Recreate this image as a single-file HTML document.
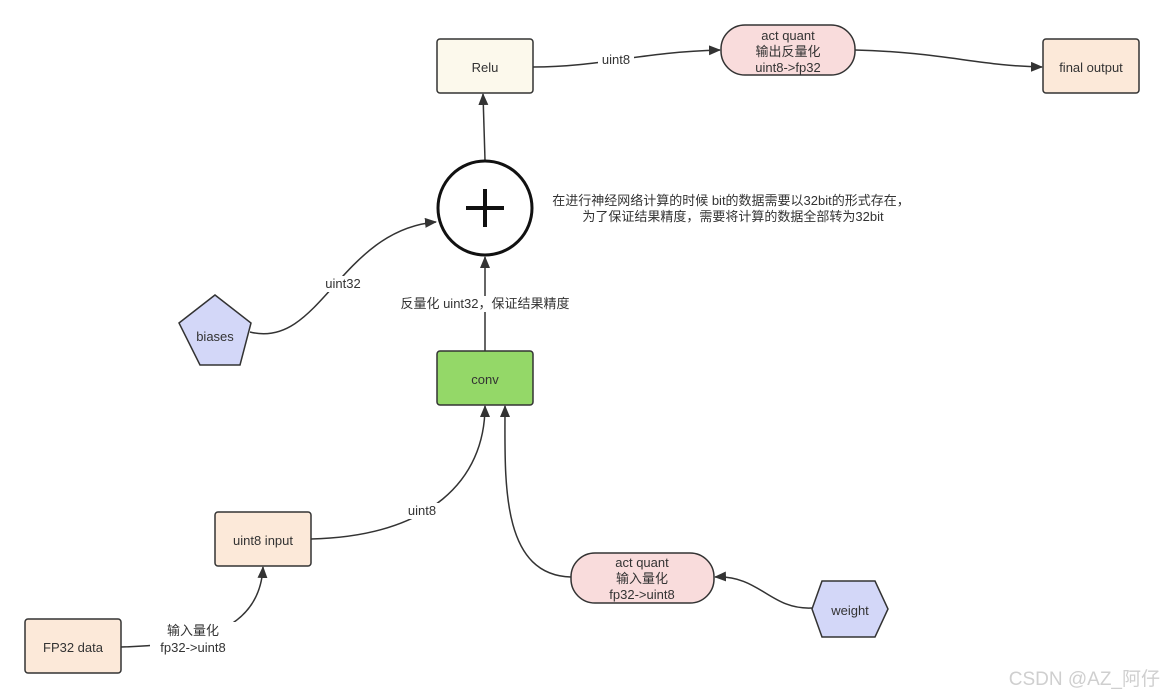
<!DOCTYPE html>
<html><head><meta charset="utf-8"><style>
html,body{margin:0;padding:0;background:#fff;}
svg{display:block;}
text{font-family:"Liberation Sans","Noto Sans CJK SC",sans-serif;font-size:13px;fill:#333;}
</style></head><body>
<svg width="1164" height="698" viewBox="0 0 1164 698" xmlns="http://www.w3.org/2000/svg">
<defs>
<marker id="a" markerWidth="12" markerHeight="10" refX="11" refY="5" orient="auto" markerUnits="userSpaceOnUse">
<path d="M0,0 L12,5 L0,10 Z" fill="#333"/>
</marker>
</defs>
<g fill="none" stroke="#333" stroke-width="1.5">
<path d="M533,67 C600,67 640,52 720,50" marker-end="url(#a)"/>
<path d="M855,50 C940,52 980,66 1042,67" marker-end="url(#a)"/>
<path d="M485,160 L483,94" marker-end="url(#a)"/>
<path d="M485,351 L485,257" marker-end="url(#a)"/>
<path d="M250,332 C320,350 340,230 436,222" marker-end="url(#a)"/>
<path d="M311,539 C430,536 485,480 485,406" marker-end="url(#a)"/>
<path d="M571,577 C500,575 505,480 505,406" marker-end="url(#a)"/>
<path d="M812,608 C770,610 760,575 715,577" marker-end="url(#a)"/>
<path d="M121,647 C200,645 260,630 263,567" marker-end="url(#a)"/>
</g>
<!-- label backgrounds -->
<rect x="598" y="52" width="36" height="14" fill="#fff"/>
<rect x="320" y="276" width="46" height="16" fill="#fff"/>
<rect x="396" y="296" width="178" height="16" fill="#fff"/>
<rect x="402" y="503" width="40" height="16" fill="#fff"/>
<rect x="150" y="622" width="92" height="34" fill="#fff"/>

<g stroke="#333" stroke-width="1.5">
<rect x="437" y="39" width="96" height="54" rx="3" fill="#fcf9ec"/>
<rect x="721" y="25" width="134" height="50" rx="24" fill="#f9dcdc"/>
<rect x="1043" y="39" width="96" height="54" rx="3" fill="#fce9d9"/>
<rect x="437" y="351" width="96" height="54" rx="3" fill="#94d868"/>
<rect x="215" y="512" width="96" height="54" rx="3" fill="#fce9d9"/>
<rect x="25" y="619" width="96" height="54" rx="3" fill="#fce9d9"/>
<rect x="571" y="553" width="143" height="50" rx="24" fill="#f9dcdc"/>
<polygon points="215,295 251,323 240,365 200,365 179,323" fill="#d3d7f8"/>
<polygon points="822,581 875,581 888,609 875,637 822,637 812,609" fill="#d3d7f8"/>
</g>
<circle cx="485" cy="208" r="47" fill="#fff" stroke="#111" stroke-width="3"/>
<path d="M466,208 H504 M485,189 V227" stroke="#111" stroke-width="4"/>

<g text-anchor="middle">
<text x="485" y="72">Relu</text>
<text x="788" y="40">act quant</text>
<text x="788" y="56">输出反量化</text>
<text x="788" y="72">uint8-&gt;fp32</text>
<text x="1091" y="72">final output</text>
<text x="616" y="64">uint8</text>
<text x="485" y="384">conv</text>
<text x="215" y="341">biases</text>
<text x="343" y="288">uint32</text>
<text x="485" y="308">反量化 uint32，保证结果精度</text>
<text x="263" y="545">uint8 input</text>
<text x="422" y="515">uint8</text>
<text x="73" y="652">FP32 data</text>
<text x="193" y="635">输入量化</text>
<text x="193" y="652">fp32-&gt;uint8</text>
<text x="642" y="567">act quant</text>
<text x="642" y="583">输入量化</text>
<text x="642" y="599">fp32-&gt;uint8</text>
<text x="850" y="615">weight</text>
<text x="731" y="205" font-size="12">在进行神经网络计算的时候 bit的数据需要以32bit的形式存在，</text>
<text x="733" y="221" font-size="12">为了保证结果精度，需要将计算的数据全部转为32bit</text>
</g>
<text x="1160" y="685" text-anchor="end" style="font-size:19px;fill:#cfcfcf">CSDN @AZ_阿仔</text>
</svg>
</body></html>
